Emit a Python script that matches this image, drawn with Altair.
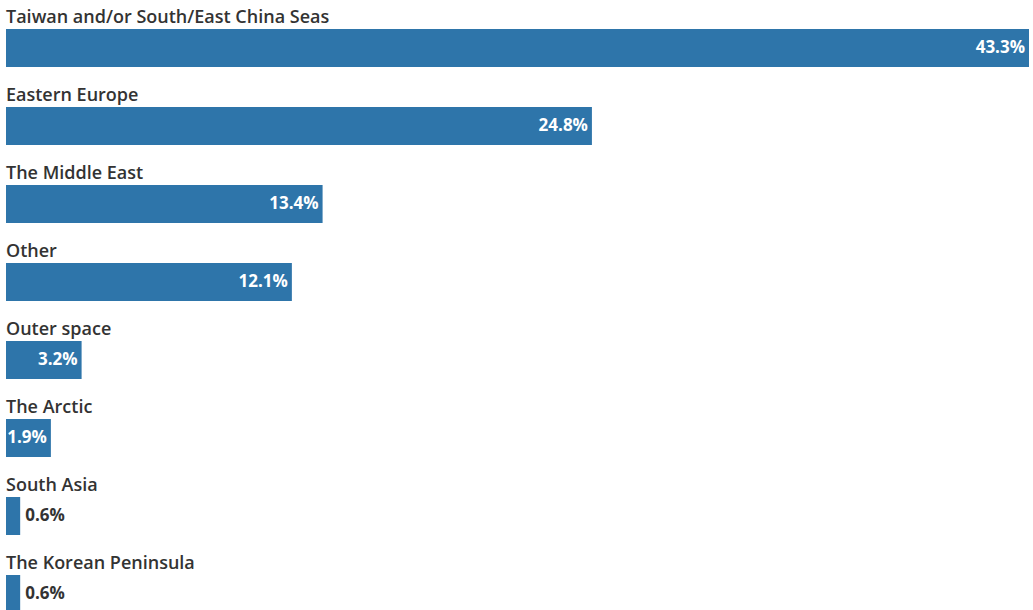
import altair as alt
import pandas as pd

categories = [
    "Taiwan and/or South/East China Seas",
    "Eastern Europe",
    "The Middle East",
    "Other",
    "Outer space",
    "The Arctic",
    "South Asia",
    "The Korean Peninsula",
]
values = [43.3, 24.8, 13.4, 12.1, 3.2, 1.9, 0.6, 0.6]

df = pd.DataFrame({"category": categories, "value": values})
df["label"] = [f"{v:.1f}%" for v in values]
df["inside"] = df["value"] >= 1.5

FONT = "Open Sans"
y = alt.Y("category:N", sort=categories, axis=None,
          scale=alt.Scale(paddingInner=0, paddingOuter=0))
x = alt.X("value:Q", axis=None, scale=alt.Scale(domain=[0, 43.3], nice=False, zero=True))

base = alt.Chart(df)

bars = base.mark_bar(size=38, yOffset=9, color="#2e75aa").encode(x=x, y=y)

cat_labels = base.mark_text(align="left", baseline="middle", dy=-21, font=FONT,
                            fontSize=18, fontWeight=600, color="#333333").encode(
    x=alt.value(0), y=y, text="category:N")

in_labels = base.transform_filter("datum.inside").mark_text(
    align="right", baseline="middle", dx=-4, dy=9, font=FONT, fontSize=17,
    fontWeight=700, color="white").encode(x=x, y=y, text="label:N")

out_labels = base.transform_filter("!datum.inside").mark_text(
    align="left", baseline="middle", dx=5, dy=9, font=FONT, fontSize=17,
    fontWeight=700, color="#333333").encode(x=x, y=y, text="label:N")

chart = alt.layer(bars, cat_labels, in_labels, out_labels).properties(
    width=1023, height=624,
    padding={"left": 6, "top": 0, "right": 4, "bottom": 0},
    autosize=alt.AutoSizeParams(type="none"),
).configure_view(stroke=None)

chart.save("out.html", embed_options={"renderer": "svg", "actions": False})
